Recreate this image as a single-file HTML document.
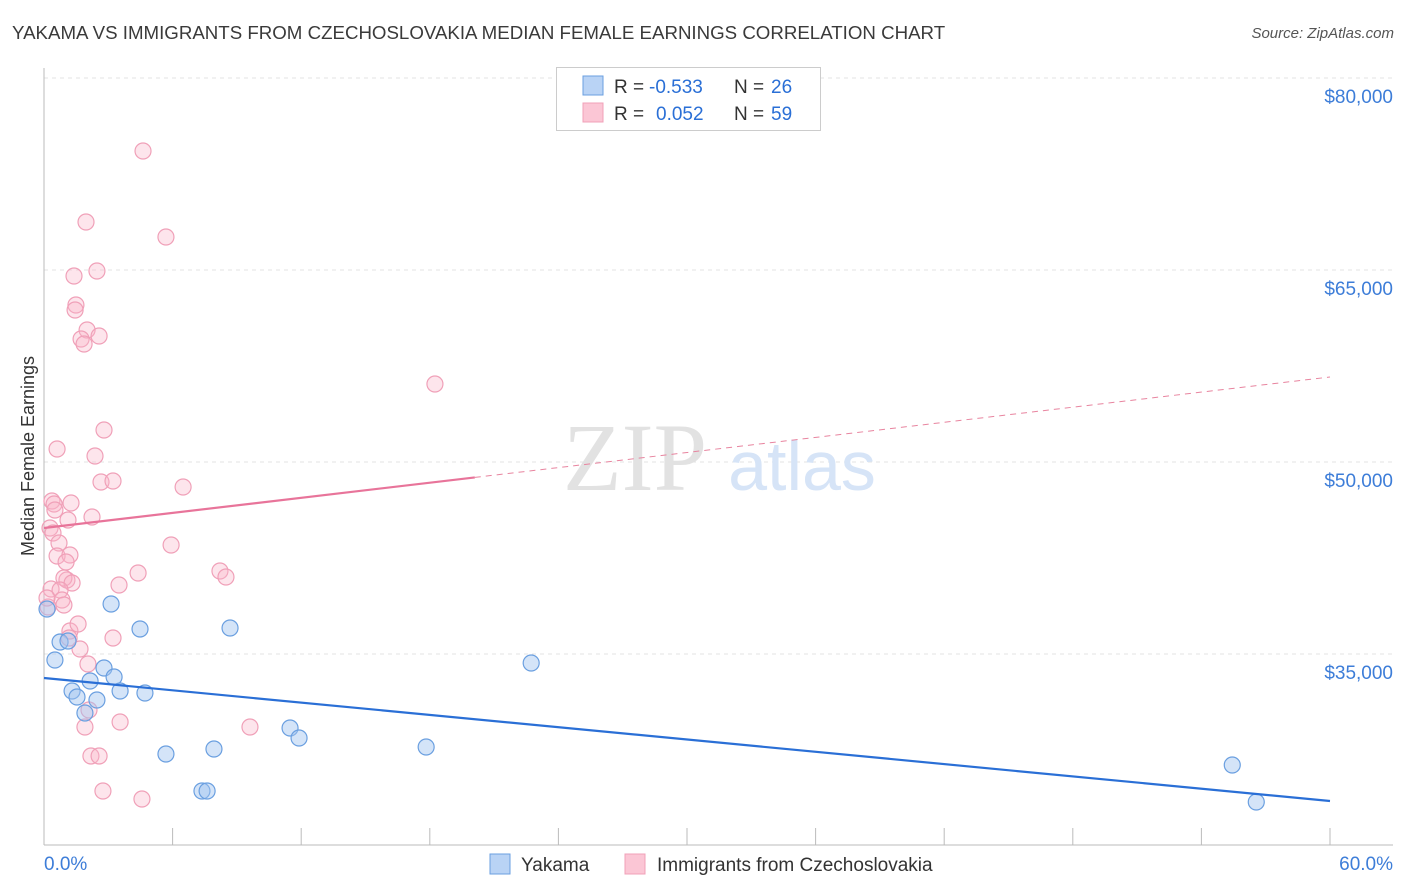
<!DOCTYPE html>
<html><head><meta charset="utf-8"><style>
body{margin:0;background:#fff;font-family:"Liberation Sans",sans-serif;}
#wrap{position:relative;width:1406px;height:892px;overflow:hidden;}
.t{position:absolute;white-space:nowrap;}
</style></head><body>
<div id="wrap">
<div class="t" style="left:12px;top:22px;font-size:18.7px;color:#3a3a3a;">YAKAMA VS IMMIGRANTS FROM CZECHOSLOVAKIA MEDIAN FEMALE EARNINGS CORRELATION CHART</div>
<div class="t" style="right:12px;top:25px;font-size:15px;color:#555;font-style:italic;">Source: ZipAtlas.com</div>
<svg id="svg" width="1406" height="892" style="position:absolute;left:0;top:0"></svg>
</div>
<script>
const yakX=[0.14,0.51,0.75,1.12,1.31,1.54,1.91,2.15,2.47,2.80,3.13,3.27,3.55,4.48,4.71,5.69,7.37,7.61,7.93,8.68,11.48,11.90,17.83,22.73,55.44,56.56];
const yakY=[38516,34531,35937,36016,32109,31641,30391,32891,31406,33906,38906,33203,32109,36953,31953,27188,24297,24297,27578,37031,29219,28438,27734,34297,26328,23438];
const czX=[4.62,1.96,5.69,2.47,1.40,1.49,1.45,2.01,2.57,1.73,1.87,18.24,2.80,0.61,2.38,2.66,3.22,6.49,0.37,0.47,0.51,1.26,2.24,1.12,0.28,0.42,0.70,5.93,0.61,1.21,1.03,1.07,0.93,1.31,3.50,4.39,8.21,8.49,0.33,0.75,0.84,0.93,0.19,1.21,1.59,1.17,1.68,3.22,2.05,2.10,1.91,3.55,9.61,2.19,2.57,2.75,4.57,0.14];
const czY=[74297,68750,67578,64922,64531,62266,61875,60313,59844,59609,59219,56094,52500,51016,50469,48438,48516,48047,46953,46719,46250,46797,45703,45469,44844,44453,43672,43516,42656,42734,42188,40781,40938,40547,40391,41328,41484,41016,40078,40000,39219,38828,38672,36797,37344,36250,35391,36250,34219,30625,29297,29688,29297,27031,27031,24297,23672,39375];
const yTicks=[80000,65000,50000,35000];
const yTickLabels=["$80,000","$65,000","$50,000","$35,000"];
const yakTrend=[33125,23516];
const czTrend=[44844,56641];
const czSolidEnd=20.1;
const X=v=>44+v/60*1286;
const Y=v=>78+(80000-v)*192/15000;
const s=document.getElementById('svg');const NS='http://www.w3.org/2000/svg';
function mk(t,a,name){const e=document.createElementNS(NS,t);for(const k in a)e.setAttribute(k,a[k]);


s.appendChild(e);return e;}
yTicks.forEach((v,i)=>{mk('line',{x1:44,x2:1393,y1:Y(v),y2:Y(v),stroke:'#e3e3e3','stroke-dasharray':'4,4'},'y-gridline');
const t=mk('text',{x:1393,y:Y(v)+25,'text-anchor':'end','font-size':19,fill:'#3d7dd8'},'y-tick-label');t.textContent=yTickLabels[i];});
mk('line',{x1:44,x2:44,y1:68,y2:845,stroke:'#bbb'},'y-axis');
mk('line',{x1:44,x2:1393,y1:845,y2:845,stroke:'#bbb'},'x-axis');
for(let i=0;i<=10;i++)mk('line',{x1:X(i*6),x2:X(i*6),y1:828,y2:845,stroke:'#bbb'},'x-tick');
let t=mk('text',{x:44,y:870,'font-size':19,fill:'#3d7dd8'},'x-min-label');t.textContent='0.0%';
t=mk('text',{x:1393,y:870,'text-anchor':'end','font-size':19,fill:'#3d7dd8'},'x-max-label');t.textContent='60.0%';
t=mk('text',{x:34,y:456,'font-size':18,fill:'#333','text-anchor':'middle',transform:'rotate(-90 34 456)'},'y-axis-title');t.textContent='Median Female Earnings';
t=mk('text',{x:635,y:490,'font-size':96,fill:'#e2e2e2','text-anchor':'middle','font-family':'Liberation Serif'},'watermark-zip');t.textContent='ZIP';
t=mk('text',{x:802,y:490,'font-size':70,fill:'#d6e4f7','text-anchor':'middle'},'watermark-atlas');t.textContent='atlas';
czX.forEach((x,i)=>mk('circle',{cx:X(x),cy:Y(czY[i]),r:8,fill:'rgba(248,180,200,0.35)',stroke:'#f0a0b8','stroke-width':1.2},'czech-point'));
yakX.forEach((x,i)=>mk('circle',{cx:X(x),cy:Y(yakY[i]),r:8,fill:'rgba(160,195,240,0.45)',stroke:'#6a9fe0','stroke-width':1.2},'yakama-point'));
mk('line',{x1:X(0),y1:Y(yakTrend[0]),x2:X(60),y2:Y(yakTrend[1]),stroke:'#2a6fd6','stroke-width':2.2},'yakama-trend-line');
const cy=x=>czTrend[0]+(czTrend[1]-czTrend[0])*x/60;
mk('line',{x1:X(0),y1:Y(cy(0)),x2:X(czSolidEnd),y2:Y(cy(czSolidEnd)),stroke:'#e8749a','stroke-width':2.2},'czech-trend-line');
mk('line',{x1:X(czSolidEnd),y1:Y(cy(czSolidEnd)),x2:X(60),y2:Y(cy(60)),stroke:'#e8849f','stroke-width':1,'stroke-dasharray':'6,5'},'czech-trend-extension');
mk('rect',{x:556.5,y:67.5,width:264,height:63,fill:'#fff',stroke:'#ccc'},'legend-box');
mk('rect',{x:583,y:76,width:20,height:19,fill:'#b9d3f5',stroke:'#6a9fe0'},'legend-swatch-yakama');
mk('rect',{x:583,y:103,width:20,height:19,fill:'#fbc6d5',stroke:'#f0a0b8'},'legend-swatch-czech');
function tx(x,y,str,fill,name){const e=mk('text',{x:x,y:y,'font-size':19,fill:fill},name);e.textContent=str;}
tx(614,93,'R =','#333','legend-r-label');tx(649,93,'-0.533','#2a6fd6','legend-r-yakama');
tx(734,93,'N =','#333','legend-n-label');tx(771,93,'26','#2a6fd6','legend-n-yakama');
tx(614,120,'R =','#333','legend-r-label');tx(656,120,'0.052','#2a6fd6','legend-r-czech');
tx(734,120,'N =','#333','legend-n-label');tx(771,120,'59','#2a6fd6','legend-n-czech');
mk('rect',{x:490,y:854,width:20,height:20,fill:'#b9d3f5',stroke:'#6a9fe0'},'bottom-legend-swatch-yakama');
tx(521,871,'Yakama','#333','bottom-legend-yakama');
mk('rect',{x:625,y:854,width:20,height:20,fill:'#fbc6d5',stroke:'#f0a0b8'},'bottom-legend-swatch-czech');
tx(657,871,'Immigrants from Czechoslovakia','#333','bottom-legend-czech');
</script>
</body></html>
